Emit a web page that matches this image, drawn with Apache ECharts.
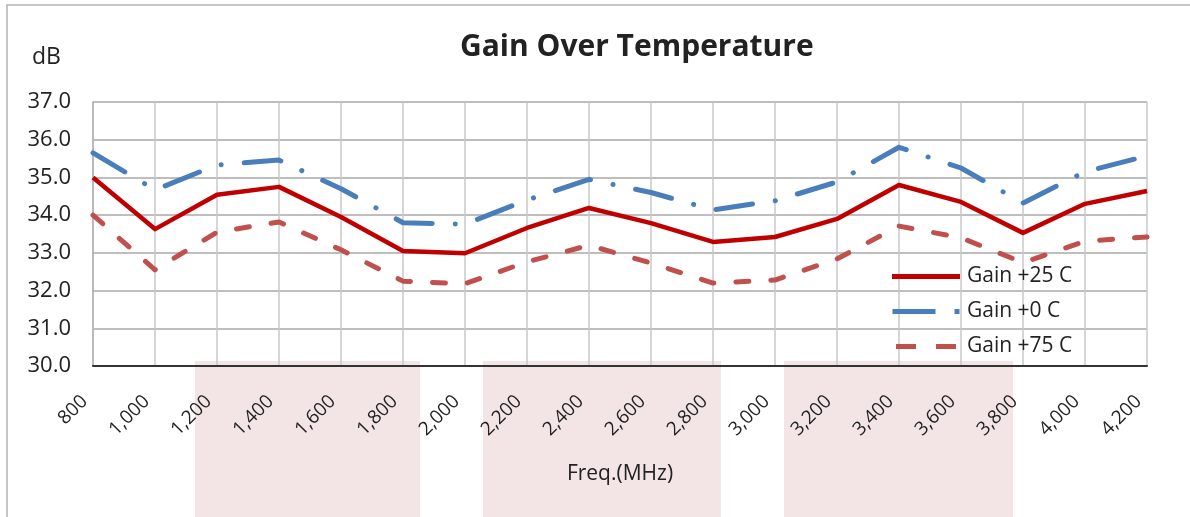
<!DOCTYPE html>
<html><head><meta charset="utf-8">
<script src="https://cdn.jsdelivr.net/npm/echarts@6/dist/echarts.min.js"></script>
<style>html,body{margin:0;padding:0;background:#fff}#c{width:1190px;height:517px}</style>
</head><body><div id="c"></div>
<script>
const freqs = [800,1000,1200,1400,1600,1800,2000,2200,2400,2600,2800,3000,3200,3400,3600,3800,4000,4200];
const gain25 = [35.0,33.63,34.54,34.75,33.95,33.05,32.99,33.66,34.19,33.79,33.29,33.42,33.9,34.8,34.35,33.53,34.3,34.64];
const gain0  = [35.65,34.67,35.33,35.46,34.7,33.8,33.76,34.4,34.95,34.6,34.14,34.38,34.88,35.8,35.25,34.32,35.15,35.57];
const gain75 = [34.0,32.55,33.55,33.82,33.08,32.25,32.18,32.76,33.2,32.73,32.2,32.28,32.84,33.71,33.4,32.74,33.31,33.42];
const seriesNames = ['Gain +25 C','Gain +0 C','Gain +75 C'];
const FONT = 'Open Sans';
const chart = echarts.init(document.getElementById('c'));
chart.setOption({
  animation:false,
  textStyle:{fontFamily:FONT},
  title:[
    {text:'Gain Over Temperature',left:455,top:27,textStyle:{fontFamily:FONT,fontWeight:'bold',fontSize:30,color:'#222'}},
    {text:'dB',left:27,top:41,textStyle:{fontFamily:FONT,fontWeight:'normal',fontSize:23,color:'#222'}}
  ],
  graphic:[
    {type:'rect',z:-10,shape:{x:195,y:361,width:225,height:160},style:{fill:'#f3e5e5'}},
    {type:'rect',z:-10,shape:{x:483,y:361,width:238,height:160},style:{fill:'#f3e5e5'}},
    {type:'rect',z:-10,shape:{x:784,y:361,width:229,height:160},style:{fill:'#f3e5e5'}},
    {type:'polyline',z:-5,shape:{points:[[7,517],[7,5],[1190,5]]},style:{stroke:'#b4b4b4',lineWidth:1.5,fill:null}}
  ],
  grid:{left:93,right:43,top:102,bottom:151,containLabel:false},
  legend:{
    orient:'vertical',left:887,top:261,itemGap:14,itemWidth:68,itemHeight:5,
    textStyle:{fontFamily:FONT,fontSize:21,color:'#222',padding:[0,0,0,2]},
    data:[
      {name:seriesNames[0],icon:'path://M0,0H68V5H0Z'},
      {name:seriesNames[1],icon:'path://M0,0H43V5H0Z M62,0H67V5H62Z'},
      {name:seriesNames[2],icon:'path://M0,0H20V5H0Z M40,0H60V5H40Z'}
    ]
  },
  xAxis:{
    type:'category',boundaryGap:false,data:freqs,
    name:'Freq.(MHz)',nameLocation:'middle',nameGap:98,
    nameTextStyle:{fontFamily:FONT,fontSize:21,color:'#222'},
    axisLine:{show:true,lineStyle:{color:'#333',width:2}},
    axisTick:{show:false},
    axisLabel:{rotate:45,fontSize:19,color:'#222',margin:24,interval:0,padding:[0,12,0,0],
      formatter:v=>Number(v).toLocaleString('en-US')},
    splitLine:{show:true,lineStyle:{color:'#c8c8c8',width:1.5}}
  },
  yAxis:{
    type:'value',min:30,max:37,interval:1,
    axisLine:{show:true,lineStyle:{color:'#b0b0b0',width:1.5}},
    axisTick:{show:false},
    axisLabel:{fontSize:22,color:'#222',margin:22,formatter:v=>v.toFixed(1)},
    splitLine:{show:true,lineStyle:{color:'#a8a8a8',width:1.5}}
  },
  series:[
    {name:seriesNames[0],type:'line',data:gain25,showSymbol:false,symbol:'none',z:5,
      lineStyle:{color:'#c00000',width:4.5,join:'round'},itemStyle:{color:'#c00000'}},
    {name:seriesNames[1],type:'line',data:gain0,showSymbol:false,symbol:'none',z:4,
      lineStyle:{color:'#4a7ebb',width:5,type:[37,23,0.1,23],cap:'round',join:'round'},itemStyle:{color:'#4a7ebb'}},
    {name:seriesNames[2],type:'line',data:gain75,showSymbol:false,symbol:'none',z:3,
      lineStyle:{color:'#c0504d',width:5,type:[13,22],cap:'round',join:'round'},itemStyle:{color:'#c0504d'}}
  ]
});
</script></body></html>
